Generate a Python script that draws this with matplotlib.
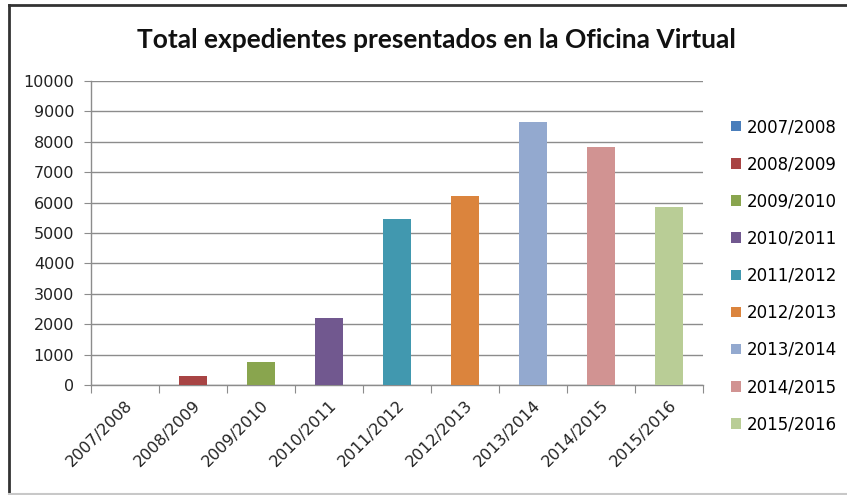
import matplotlib
matplotlib.use("Agg")
import matplotlib.pyplot as plt
from matplotlib.lines import Line2D
from matplotlib.patches import Patch

# data
cursos = ["2007/2008", "2008/2009", "2009/2010", "2010/2011", "2011/2012",
          "2012/2013", "2013/2014", "2014/2015", "2015/2016"]
expedientes = [0, 300, 770, 2200, 5460, 6220, 8650, 7840, 5850]
colores = ["#4A7EBB", "#A84444", "#89A54E", "#71588F", "#4198AF",
           "#DB843D", "#93A9CF", "#D19392", "#B9CD96"]
yticks = [0, 1000, 2000, 3000, 4000, 5000, 6000, 7000, 8000, 9000, 10000]

plt.rcParams["font.family"] = ["DejaVu Sans"]

fig = plt.figure(figsize=(8.47, 4.95), dpi=100)
ax = fig.add_axes([91 / 847, 1 - 385 / 495, (703 - 91) / 847, (385 - 81) / 495])

x = list(range(len(cursos)))
ax.bar(x, expedientes, width=0.4, color=colores, zorder=3)

ax.set_ylim(0, 10000)
ax.set_yticks(yticks)
ax.set_yticklabels([str(v) for v in yticks], fontsize=11.5, color="#222222")
ax.yaxis.grid(True, color="#8c8c8c", linewidth=1, zorder=0)
ax.tick_params(axis="y", length=5, color="#8c8c8c", pad=7)

ax.set_xlim(-0.5, len(cursos) - 0.5)
ax.set_xticks([i - 0.5 for i in range(len(cursos) + 1)])
ax.set_xticklabels([])
ax.set_xticks(x, minor=True)
ax.set_xticklabels(cursos, minor=True, rotation=45, ha="right",
                   rotation_mode="anchor", fontsize=11.5, color="#222222")
ax.tick_params(axis="x", which="major", length=6, color="#8c8c8c")
ax.tick_params(axis="x", which="minor", length=0, pad=9)

for s in ["top", "right"]:
    ax.spines[s].set_visible(False)
for s in ["left", "bottom"]:
    ax.spines[s].set_color("#8c8c8c")
    ax.spines[s].set_linewidth(1)

fig.text(436 / 847, 1 - 48 / 495, "Total expedientes presentados en la Oficina Virtual",
         ha="center", va="baseline", fontsize=19, fontweight="bold", color="#111111",
         family=["Lato", "DejaVu Sans"])

handles = [Patch(facecolor=c, edgecolor="none") for c in colores]
fig.legend(handles, cursos, loc="upper left", bbox_to_anchor=(731 / 847, 1 - 118 / 495),
           frameon=False, fontsize=12, handlelength=0.6, handleheight=0.6,
           handletextpad=0.35, labelspacing=1.15, borderaxespad=0, borderpad=0)

# chart frame (dark top/left, light bottom)
fig.add_artist(Line2D([9 / 847, 1], [1 - 5 / 495, 1 - 5 / 495], color="#333333", linewidth=2))
fig.add_artist(Line2D([9 / 847, 9 / 847], [1 - 5 / 495, 1 - 494 / 495], color="#333333", linewidth=2))
fig.add_artist(Line2D([9 / 847, 1], [1 - 494 / 495, 1 - 494 / 495], color="#c8c8c8", linewidth=1.5))

fig.savefig("out.png", dpi=100)
